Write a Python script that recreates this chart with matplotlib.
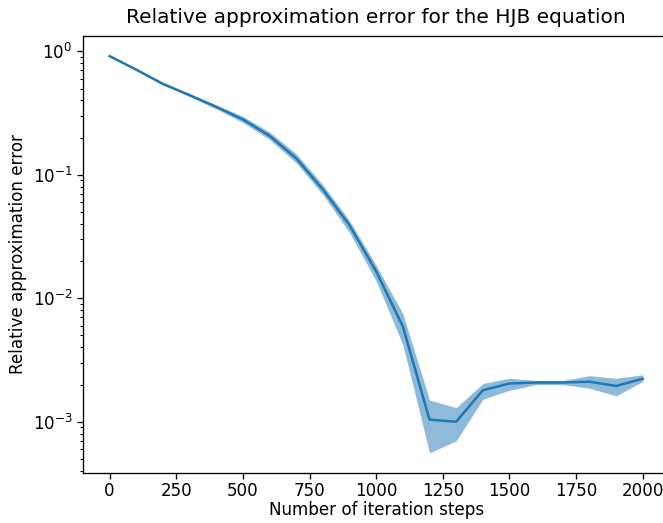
import numpy as np
import matplotlib
matplotlib.use("Agg")
import matplotlib.pyplot as plt

# iteration steps and relative error (mean with min/max band)
steps = [0, 100, 200, 300, 400, 500, 600, 700, 800, 900, 1000,
         1100, 1200, 1300, 1400, 1500, 1600, 1700, 1800, 1900, 2000]
err_mean = [0.915, 0.71, 0.545, 0.442, 0.355, 0.281, 0.207, 0.136, 0.076, 0.039, 0.0165,
            0.0059, 0.00104, 0.00100, 0.0018, 0.00204, 0.00208, 0.00208, 0.00211, 0.00195, 0.00223]
err_low = [0.91, 0.70, 0.535, 0.43, 0.342, 0.265, 0.193, 0.125, 0.069, 0.034, 0.0138,
           0.0042, 0.00056, 0.0007, 0.00152, 0.0018, 0.00200, 0.00200, 0.00187, 0.00162, 0.00212]
err_high = [0.92, 0.72, 0.555, 0.452, 0.368, 0.297, 0.222, 0.148, 0.083, 0.0425, 0.0185,
            0.0075, 0.0015, 0.0013, 0.00204, 0.00225, 0.00216, 0.00216, 0.00236, 0.00225, 0.0024]

plt.rcParams.update({'font.size': 12.1,
                     'axes.linewidth': 0.95,
                     'xtick.major.size': 4.2, 'ytick.major.size': 4.2,
                     'ytick.minor.size': 2.4,
                     'xtick.major.width': 0.95, 'ytick.major.width': 0.95,
                     'ytick.minor.width': 0.7,
                     'xtick.major.pad': 2.5})

fig = plt.figure(figsize=(6.63, 5.23), dpi=100)
ax = fig.add_axes([0.1252, 0.0962, 0.8845, 0.835])

ax.plot(steps, err_mean, color='C0', lw=1.8)
ax.fill_between(steps, err_low, err_high, color='C0', alpha=0.5, lw=0)
ax.set_yscale('log')
ax.set_xticks(np.arange(0, 2001, 250))

ax.set_title('Relative approximation error for the HJB equation', pad=9)
ax.set_xlabel('Number of iteration steps', labelpad=1)
ax.set_ylabel('Relative approximation error', labelpad=4)

fig.savefig('out.png', dpi=100)
